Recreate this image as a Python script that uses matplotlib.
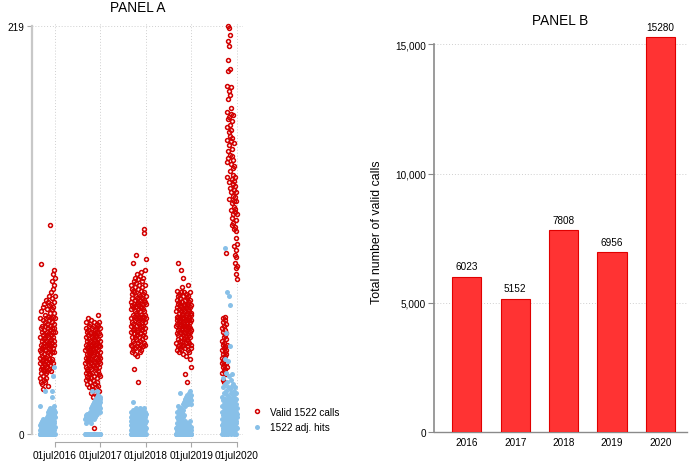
"""Two-panel chart: daily 1522 calls / adj. hits per season (A) and yearly totals (B)."""
import numpy as np
import matplotlib
matplotlib.use("Agg")
import matplotlib.pyplot as plt
import matplotlib.dates as mdates
from matplotlib.ticker import FuncFormatter

plt.rcParams["font.family"] = ["Liberation Sans", "DejaVu Sans"]

YEARS = [2016, 2017, 2018, 2019, 2020]
SEASON_START = ["2016-03-01", "2017-03-01", "2018-03-01", "2019-03-01", "2020-03-01"]

# daily valid 1522 calls, 1 Mar .. 1 Jul
VALID_2016 = [38, 45, 62, 30, 52, 41, 35, 91, 48, 57, 33, 28, 44, 66, 39, 50, 27, 46, 58, 36,
              42, 55, 31, 68, 47, 24, 53, 40, 61, 35, 49, 29, 56, 43, 70, 38, 51, 34, 60, 45,
              37, 64, 52, 28, 47, 58, 41, 33, 72, 50, 39, 62, 45, 30, 55, 48, 67, 36, 53, 42,
              59, 34, 49, 71, 44, 38, 63, 52, 26, 57, 46, 69, 40, 54, 35, 61, 48, 74, 43, 56,
              50, 37, 65, 112, 45, 58, 39, 70, 53, 47, 62, 34, 76, 51, 44, 67, 57, 40, 73, 49,
              60, 82, 46, 55, 68, 38, 78, 52, 63, 86, 48, 59, 71, 44, 80, 57, 65, 88, 50, 62,
              74, 55, 84]
VALID_2017 = [45, 38, 52, 33, 57, 41, 29, 48, 36, 60, 43, 31, 50, 39, 55, 27, 46, 35, 53, 40,
              62, 34, 47, 30, 56, 42, 37, 51, 25, 44, 58, 33, 49, 39, 54, 28, 45, 36, 59, 41,
              32, 50, 43, 22, 55, 38, 47, 30, 61, 44, 35, 52, 26, 48, 40, 57, 33, 46, 24, 53,
              42, 37, 58, 29, 49, 20, 45, 54, 3, 39, 51, 31, 47, 43, 60, 27, 50, 36, 56, 22,
              44, 38, 53, 33, 48, 25, 57, 41, 35, 52, 46, 30, 59, 21, 49, 43, 37, 55, 28, 47,
              40, 64, 34, 51, 45, 26, 58, 39, 48, 32, 54, 42, 36, 60, 23, 50, 44, 38, 57, 31,
              47, 41, 53]
VALID_2018 = [62, 71, 55, 80, 48, 67, 58, 75, 44, 69, 52, 78, 60, 47, 73, 56, 92, 64, 50, 77,
              59, 68, 45, 82, 35, 63, 54, 76, 49, 70, 57, 84, 46, 66, 61, 79, 52, 72, 43, 65,
              96, 58, 74, 51, 68, 62, 81, 47, 70, 55, 64, 86, 53, 73, 42, 67, 28, 60, 78, 49,
              71, 56, 83, 63, 46, 75, 59, 69, 52, 80, 61, 44, 72, 57, 66, 85, 50, 74, 62, 48,
              77, 58, 68, 54, 87, 64, 45, 73, 60, 70, 51, 79, 63, 56, 82, 47, 67, 61, 75, 53,
              69, 58, 84, 49, 72, 110, 63, 108, 55, 76, 66, 52, 88, 60, 71, 57, 80, 64, 48, 74,
              94, 62, 70]
VALID_2019 = [58, 66, 49, 72, 61, 54, 77, 45, 68, 59, 63, 51, 92, 70, 56, 47, 74, 62, 53, 67,
              60, 48, 75, 57, 65, 44, 71, 55, 63, 50, 69, 58, 46, 73, 61, 54, 88, 66, 52, 76,
              59, 45, 68, 62, 56, 79, 50, 64, 57, 71, 47, 60, 84, 53, 67, 43, 74, 58, 65, 51,
              70, 55, 62, 48, 76, 59, 66, 52, 32, 61, 69, 46, 57, 72, 54, 64, 49, 75, 58, 63,
              42, 68, 56, 60, 28, 73, 51, 65, 47, 59, 70, 54, 80, 62, 45, 67, 57, 74, 50, 61,
              66, 53, 71, 44, 58, 63, 49, 76, 55, 68, 40, 60, 52, 72, 57, 64, 36, 46, 69, 56,
              61, 48, 65]
VALID_2020 = [45, 38, 57, 33, 50, 41, 62, 36, 48, 29, 55, 43, 39, 60, 34, 52, 46, 28, 58, 40,
              49, 37, 63, 44, 53, 35, 47, 61, 42, 56, 32, 51, 97, 45, 38, 59, 43, 54, 36, 48,
              146, 165, 138, 173, 187, 158, 201, 152, 219, 180, 169, 195, 148, 211, 162, 218, 184, 135, 155, 208,
              170, 126, 160, 214, 150, 182, 132, 166, 196, 141, 175, 120, 157, 186, 145, 130, 163, 172, 116, 153,
              137, 168, 124, 149, 112, 159, 134, 143, 118, 171, 128, 147, 113, 139, 122, 156, 131, 110, 144, 125,
              136, 101, 119, 133, 96, 127, 111, 138, 92, 121, 105, 130, 89, 115, 99, 125, 86, 109, 95, 118,
              83, 102, 90]

# daily 1522 adj. hits, same days
HITS_2016 = [15, 0, 2, 0, 5, 0, 1, 3, 0, 6, 0, 2, 0, 4, 7, 0, 1, 0, 3, 5,
             0, 2, 6, 0, 1, 4, 0, 8, 2, 0, 3, 0, 5, 1, 0, 7, 2, 0, 4, 0,
             23, 3, 0, 6, 1, 0, 5, 2, 0, 4, 8, 0, 1, 3, 0, 6, 2, 0, 9, 1,
             0, 4, 10, 2, 0, 7, 12, 0, 3, 5, 0, 11, 1, 8, 0, 13, 2, 6, 0, 10,
             4, 0, 12, 7, 1, 14, 0, 9, 3, 11, 0, 13, 6, 2, 20, 0, 10, 5, 12, 1,
             23, 8, 0, 11, 14, 3, 31, 9, 0, 12, 6, 15, 2, 10, 0, 13, 7, 11, 36, 4,
             9, 0, 12]
HITS_2017 = [0, 8, 0, 0, 10, 0, 6, 0, 0, 9, 0, 0, 7, 0, 11, 0, 0, 8, 0, 0,
             9, 0, 0, 10, 0, 7, 0, 0, 11, 0, 8, 0, 0, 10, 0, 0, 9, 0, 11, 0,
             7, 12, 0, 9, 0, 14, 6, 0, 11, 8, 0, 23, 13, 0, 9, 15, 0, 10, 12, 0,
             14, 0, 9, 16, 0, 11, 13, 0, 17, 8, 0, 15, 12, 0, 10, 18, 0, 13, 9, 0,
             16, 11, 0, 19, 14, 0, 10, 17, 0, 13, 18, 0, 12, 16, 0, 20, 11, 23, 0, 15,
             18, 0, 12, 17, 0, 21, 14, 0, 16, 19, 0, 13, 18, 0, 15, 20, 0, 12, 17, 0,
             19, 0, 14]
HITS_2018 = [5, 0, 9, 2, 12, 0, 7, 4, 0, 10, 3, 6, 0, 8, 1, 11, 17, 0, 5, 9,
             2, 0, 13, 6, 0, 4, 10, 1, 7, 0, 12, 3, 0, 8, 5, 11, 0, 2, 9, 6,
             0, 14, 4, 0, 7, 10, 1, 0, 12, 5, 3, 0, 9, 6, 0, 11, 2, 8, 0, 13,
             4, 0, 7, 10, 1, 0, 6, 12, 3, 0, 9, 5, 0, 11, 2, 8, 0, 14, 6, 0,
             10, 3, 0, 7, 12, 1, 0, 9, 5, 11, 0, 4, 8, 0, 13, 2, 6, 0, 10, 7,
             0, 12, 3, 9, 0, 5, 11, 1, 0, 8, 14, 2, 0, 6, 10, 0, 4, 9, 12, 0,
             7, 3, 11]
HITS_2019 = [0, 3, 0, 1, 6, 0, 2, 9, 0, 4, 12, 0, 1, 15, 0, 5, 8, 0, 2, 11,
             0, 7, 3, 0, 13, 1, 0, 10, 4, 0, 6, 22, 0, 2, 9, 0, 14, 3, 0, 8,
             1, 0, 11, 5, 0, 3, 12, 0, 7, 2, 0, 16, 4, 0, 9, 1, 0, 13, 6, 0,
             3, 17, 0, 5, 10, 0, 2, 18, 0, 4, 15, 1, 0, 7, 19, 0, 3, 16, 0, 6,
             20, 0, 2, 17, 5, 0, 18, 1, 0, 21, 4, 0, 16, 3, 19, 0, 6, 20, 0, 2,
             17, 0, 5, 22, 1, 0, 18, 4, 23, 0, 3, 19, 0, 20, 7, 0, 16, 2, 21, 0,
             18, 4, 0]
HITS_2020 = [12, 5, 20, 0, 8, 15, 3, 25, 10, 1, 18, 6, 30, 2, 14, 9, 0, 22, 11, 4,
             16, 7, 40, 13, 100, 3, 19, 8, 27, 12, 0, 54, 17, 5, 23, 10, 2, 33, 15, 6,
             76, 9, 21, 14, 1, 28, 11, 39, 4, 18, 7, 25, 13, 0, 20, 8, 31, 16, 3, 12,
             74, 19, 6, 47, 10, 24, 2, 69, 15, 9, 29, 5, 17, 12, 0, 22, 8, 14, 26, 3,
             11, 18, 7, 32, 13, 1, 21, 9, 16, 4, 27, 10, 19, 6, 14, 0, 23, 12, 8, 17,
             5, 20, 11, 3, 15, 9, 25, 2, 13, 18, 7, 0, 16, 10, 22, 4, 12, 19, 6, 14,
             9, 3, 11]

VALID = [VALID_2016, VALID_2017, VALID_2018, VALID_2019, VALID_2020]
HITS = [HITS_2016, HITS_2017, HITS_2018, HITS_2019, HITS_2020]

# panel B: yearly totals
TOTAL_VALID = [6023, 5152, 7808, 6956, 15280]

RED = "#D20000"
BLUE = "#88C0E8"
BAR_FILL = "#FF3333"
BAR_EDGE = "#E00000"
GRID = dict(color="#CFCFCF", linestyle=(0, (1, 2)), linewidth=0.7)

W, H = 690, 464
fig = plt.figure(figsize=(W / 100, H / 100), dpi=100)


def px_axes(left, top, right, bottom):
    return fig.add_axes([left / W, 1 - bottom / H, (right - left) / W, (bottom - top) / H])


# ------- panel A --------
axA = px_axes(32, 24, 243, 440)
for start, valid in zip(SEASON_START, VALID):
    days = np.datetime64(start) + np.arange(len(valid))
    axA.plot(days, valid, ls="none", marker="o", ms=2.8, mfc="none", mec=RED,
             mew=1.1, clip_on=False, zorder=3)
for start, hits in zip(SEASON_START, HITS):
    days = np.datetime64(start) + np.arange(len(hits))
    axA.plot(days, hits, ls="none", marker="o", ms=3.6, mfc=BLUE, mec="none",
             clip_on=False, zorder=4)

july = [mdates.date2num(np.datetime64(f"{y}-07-01")) for y in YEARS]
axA.set_xlim(july[0] - 184.6, july[-1] + 48.2)
axA.set_ylim(-2.68, 220.6)
axA.set_xticks(july)
axA.xaxis.set_major_formatter(
    FuncFormatter(lambda v, p: mdates.num2date(v).strftime("%d%b%Y").lower()))
axA.set_yticks([0, 219])
for s in ("top", "right"):
    axA.spines[s].set_visible(False)
axA.spines["left"].set_bounds(0, 219)
axA.spines["left"].set_color("#C8C8C8")
axA.spines["left"].set_linewidth(1.6)
axA.spines["bottom"].set_bounds(july[0], july[-1])
axA.spines["bottom"].set_position(("outward", 2.2))
axA.spines["bottom"].set_color("#A8A8A8")
axA.spines["bottom"].set_linewidth(0.8)
axA.tick_params(axis="y", length=3.6, width=0.8, color="#A8A8A8", labelsize=7.2, pad=2)
axA.tick_params(axis="x", length=3.6, width=0.8, color="#A8A8A8", labelsize=7.3, pad=2.2)
axA.grid(True, **GRID)
axA.set_axisbelow(True)

fig.text(138 / W, 1 - 8.5 / H, "PANEL A", ha="center", va="center", fontsize=9.8)

red_h = plt.Line2D([], [], ls="none", marker="o", ms=2.8, mfc="none", mec=RED, mew=1.1)
blue_h = plt.Line2D([], [], ls="none", marker="o", ms=3.6, mfc=BLUE, mec="none")
fig.legend([red_h, blue_h], ["Valid 1522 calls", "1522 adj. hits"],
           loc="center left", bbox_to_anchor=(252 / W, 1 - 420.5 / H),
           frameon=False, fontsize=7.2, handlelength=1.0, handletextpad=0.8,
           borderpad=0, borderaxespad=0, labelspacing=0.55)

# ------- panel B --------
axB = px_axes(434, 36, 687, 433.3)
pos = np.arange(len(YEARS))
bars = axB.bar(pos, TOTAL_VALID, width=0.6, color=BAR_FILL, edgecolor=BAR_EDGE,
               linewidth=0.8, zorder=3)
axB.bar_label(bars, labels=[str(v) for v in TOTAL_VALID], padding=4, fontsize=7.2)
axB.set_xlim(-0.678, 4.55)
axB.set_ylim(0, 15360)
axB.set_xticks(pos)
axB.set_xticklabels([str(y) for y in YEARS])
axB.set_yticks([0, 5000, 10000, 15000])
axB.yaxis.set_major_formatter(FuncFormatter(lambda v, p: f"{v:,.0f}"))
for s in ("top", "right"):
    axB.spines[s].set_visible(False)
axB.spines["left"].set_bounds(0, 15000)
axB.spines["left"].set_color("#8A8A8A")
axB.spines["left"].set_linewidth(1.2)
axB.spines["bottom"].set_color("#8A8A8A")
axB.spines["bottom"].set_linewidth(1.0)
axB.tick_params(axis="y", length=4.3, width=0.8, color="#8A8A8A", labelsize=7.2, pad=1.5)
axB.tick_params(axis="x", length=0, labelsize=7.2, pad=3.5)
axB.grid(True, axis="y", **GRID)
axB.set_axisbelow(True)

fig.text(560.5 / W, 1 - 21 / H, "PANEL B", ha="center", va="center", fontsize=9.8)
fig.text(377 / W, 1 - 232 / H, "Total number of valid calls", rotation=90,
         ha="center", va="center", fontsize=8.9)

fig.savefig("out.png", dpi=100)
